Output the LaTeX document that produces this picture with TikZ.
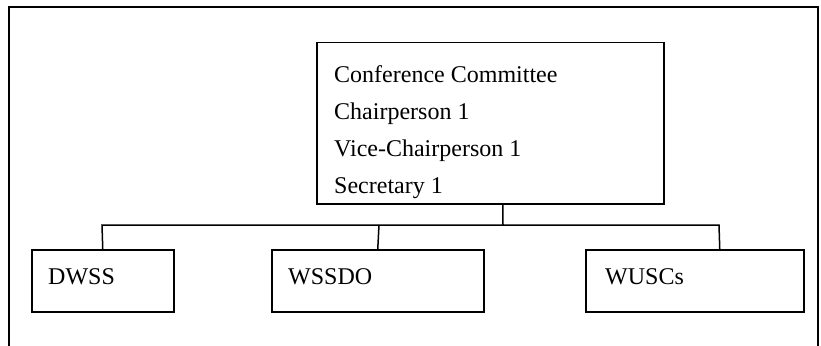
\documentclass[tikz,border=0pt]{standalone}
\usepackage{fontspec}
\setmainfont{Liberation Serif}
\begin{document}
\begin{tikzpicture}[x=1pt,y=-1pt,
  frame/.style={line width=2pt,line cap=rect},
  box/.style={draw,line width=1.5pt,rectangle,inner sep=0pt,anchor=north west},
  label/.style={inner sep=0pt,anchor=base west,font=\fontsize{24}{28}\selectfont},
  link/.style={line width=1.5pt}]
\useasboundingbox (0,0) rectangle (821,345);
% open outer frame
\draw[frame] (9,360) -- (9,7) -- (818,7) -- (818,360);

% committee box
\node[box,minimum width=347pt,minimum height=161pt] (cc) at (316,42) {};
\node[label] (cc1) at (334,82) {Conference Committee};
\node[label] (cc2) at (334,119) {Chairperson 1};
\node[label] (cc3) at (334,156) {Vice-Chairperson 1};
\node[label] (cc4) at (334,193) {Secretary 1};

% member boxes
\node[box,minimum width=142pt,minimum height=62pt] (dwss) at (31,249) {};
\node[box,minimum width=212pt,minimum height=62pt] (wssdo) at (271,249) {};
\node[box,minimum width=218pt,minimum height=62pt] (wuscs) at (585,249) {};
\node[label] (t1) at (48,284) {DWSS};
\node[label] (t2) at (288,284) {WSSDO};
\node[label] (t3) at (605,284) {WUSCs};

% connectors
\coordinate (busL) at (102,225);
\coordinate (busM) at (379,225);
\coordinate (busC) at (503,225);
\coordinate (busR) at (719,225);
\draw[link] (dwss.north) -- (busL) -- (busR) -- ([xshift=25pt]wuscs.north);
\draw[link] ([xshift=12.5pt]cc.south) -- (busC);
\draw[link] (wssdo.north) -- (busM);
\end{tikzpicture}
\end{document}
